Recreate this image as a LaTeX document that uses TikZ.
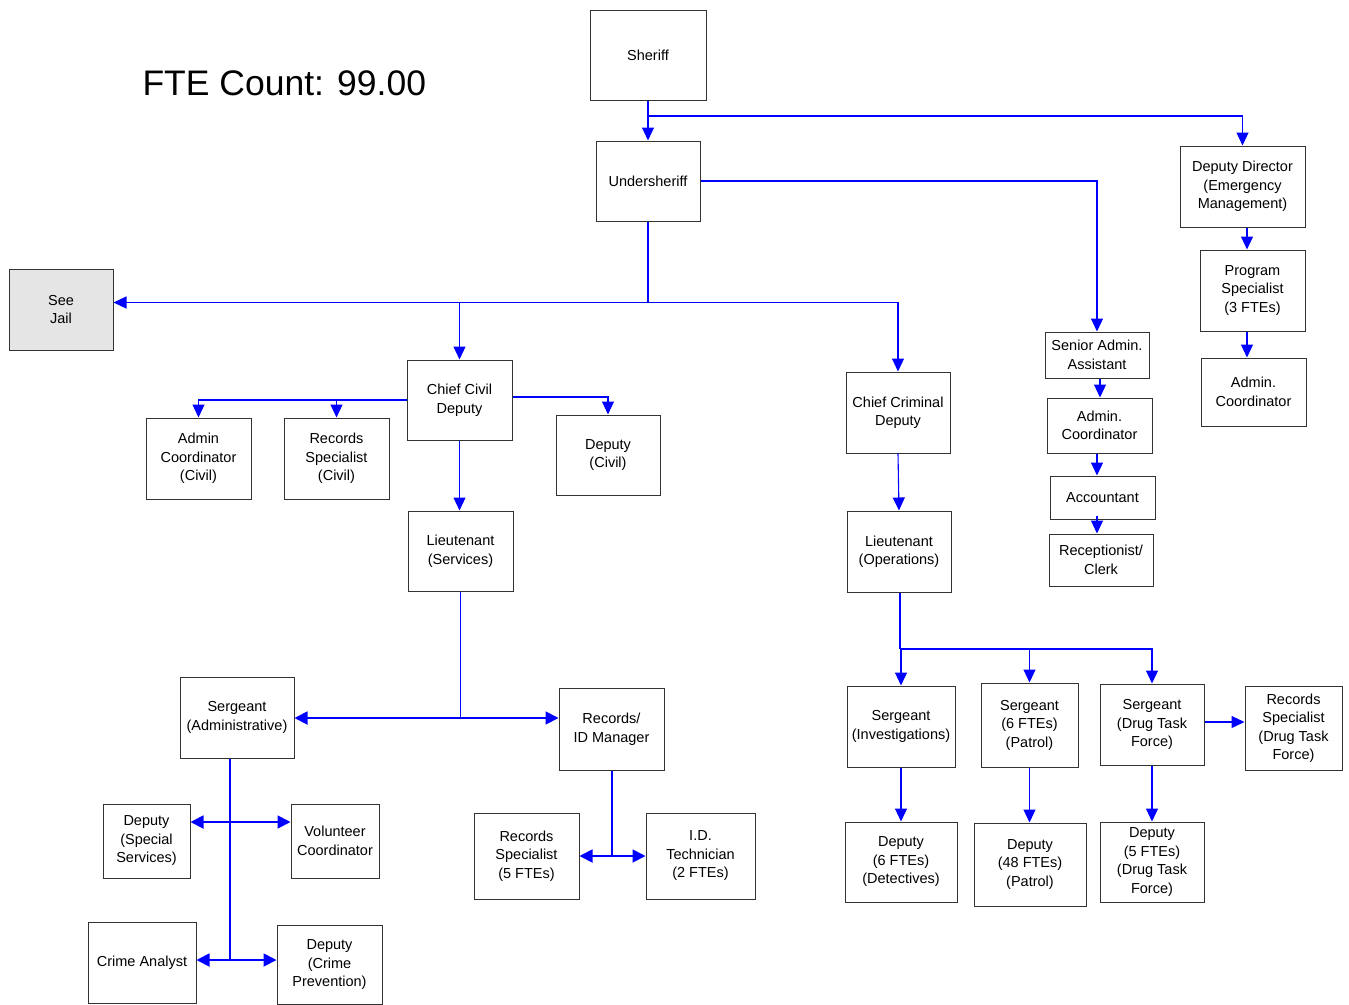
\documentclass[tikz,border=0pt]{standalone}
\usepackage{fontspec}
\setmainfont{Liberation Sans}
\usetikzlibrary{arrows.meta}
\usetikzlibrary{positioning}
\tikzset{
	box/.style 2 args={draw=black!80, line width=1pt, minimum width=#1pt, minimum height=#2pt,
		inner sep=0pt, align=center, font=\fontsize{14.5}{18.5}\selectfont},
	jailbox/.style={fill=black!10},
	wire/.style={draw=blue, line width=1.1pt},
	link/.style={wire, -{Triangle[length=13pt,width=12pt]}},
	twin/.style={wire, line width=1.8pt, -{Triangle[length=13pt,width=13pt]}}
}

\begin{document}
\begin{tikzpicture}[x=1pt,y=-1pt]
	\useasboundingbox (0,0) rectangle (1349,1004);
	\node[anchor=west, font=\fontsize{35.5}{42}\selectfont] (fte) at (139,83) {FTE Count: 99.00};
	% top
	\node[box={116}{90}] (sheriff) at (648,55) {Sheriff};
	\node[box={104}{80}] (under) at (648,181) {Undersheriff};
	\node[box={125}{81}] (depdir) at (1242.5,186.5) {Deputy Director\\(Emergency\\Management)};
	\node[box={105}{81}] (prog) at (1252.5,290.5) {Program\\Specialist\\(3 FTEs)};
	\node[box={105}{68}] (admr) at (1253.5,392) {Admin.\\Coordinator};
	\node[box={104}{81}, jailbox] (jail) at (61,309.5) {See\\Jail};
	% civil side
	\node[box={105}{80}] (civil) at (459.5,400) {Chief Civil\\Deputy};
	\node[box={105}{81}] (admc) at (198.5,458.5) {Admin\\Coordinator\\(Civil)};
	\node[box={105}{81}] (recc) at (336.5,458.5) {Records\\Specialist\\(Civil)};
	\node[box={104}{80}] (depc) at (608,455) {Deputy\\(Civil)};
	\node[box={105}{80}] (ltsvc) at (460.5,551) {Lieutenant\\(Services)};
	\node[box={114}{81}] (sgtadm) at (237,717.5) {Sergeant\\(Administrative)};
	\node[box={105}{82}] (recmgr) at (611.5,729) {Records/\\ID Manager};
	\node[box={87}{74}] (depss) at (146.5,841) {Deputy\\(Special\\Services)};
	\node[box={88}{74}] (volun) at (335,841) {Volunteer\\Coordinator};
	\node[box={108}{81}] (crime) at (142,962.5) {Crime Analyst};
	\node[box={105}{79}] (depcp) at (329.5,964.5) {Deputy\\(Crime\\Prevention)};
	\node[box={105}{86}] (recsp) at (526.5,856) {Records\\Specialist\\(5 FTEs)};
	\node[box={109}{86}] (idtech) at (700.5,856) {I.D.\\Technician\\(2 FTEs)};
	% criminal side
	\node[box={104}{81}] (crim) at (898,412.5) {Chief Criminal\\Deputy};
	\node[box={104}{81}] (ltops) at (899,551.5) {Lieutenant\\(Operations)};
	\node[box={108}{81}] (sgtinv) at (901,726.5) {Sergeant\\(Investigations)};
	\node[box={97}{84}] (sgtpat) at (1029.5,725) {Sergeant\\(6 FTEs)\\(Patrol)};
	\node[box={104}{81}] (sgtdrug) at (1152,724.5) {Sergeant\\(Drug Task\\Force)};
	\node[box={97}{84}] (recdrug) at (1293.5,728) {Records\\Specialist\\(Drug Task\\Force)};
	\node[box={112}{80}] (depdet) at (901,862) {Deputy\\(6 FTEs)\\(Detectives)};
	\node[box={112}{83}] (dep48) at (1030,864.5) {Deputy\\(48 FTEs)\\(Patrol)};
	\node[box={104}{80}] (dep5) at (1152,862) {Deputy\\(5 FTEs)\\(Drug Task\\Force)};
	% admin column
	\node[box={104}{46}] (senior) at (1097,355) {Senior Admin.\\Assistant};
	\node[box={105}{55}] (admmid) at (1099.5,425.5) {Admin.\\Coordinator};
	\node[box={105}{43}] (acct) at (1102.5,497.5) {Accountant};
	\node[box={104}{52}] (recep) at (1101,560) {Receptionist/\\Clerk};

	% junctions
	\coordinate (j1) at (648,116);
	\coordinate (j2) at (648,302.5);
	\coordinate (j3) at (459.5,302.5);
	\coordinate (j4) at (460.5,718);
	\coordinate (j5) at (230,822);
	\coordinate (j6) at (230,960);
	\coordinate (j7) at (612,856);
	\coordinate (j8) at (900,649);

	\draw[link] (sheriff.south) -- (under.north);
	\draw[link] (j1) -| (depdir.north);
	\draw[link] ([xshift=4.5pt]depdir.south) -- ([xshift=4.5pt]depdir.south |- prog.north);
	\draw[link] ([xshift=-5.5pt]prog.south) -- ([xshift=-5.5pt]prog.south |- admr.north);
	\draw[link] (under.east) -| (senior.north);
	\draw[link] ([xshift=3pt]senior.south) -- ([xshift=3pt]senior.south |- admmid.north);
	\draw[link] ([xshift=-2.5pt]admmid.south) -- ([xshift=-2.5pt]admmid.south |- acct.north);
	\draw[link] ([xshift=-5.5pt,yshift=4pt]acct.south) -- ([xshift=-5.5pt]acct.south |- recep.north);
	\draw[wire] (under.south) -- (j2);
	\draw[link] (j2) -| (crim.north);
	\draw[wire] (j2) -- (j3);
	\draw[link] (j3) -- (j3 -| jail.east);
	\draw[link] (j3) -- (civil.north);
	\draw[link] (civil.west) -| (admc.north);
	\draw[link] (civil.west -| recc.north) -- (recc.north);
	\draw[link] ([yshift=3pt]civil.east) -| (depc.north);
	\draw[link] (civil.south) -- (civil.south |- ltsvc.north);
	\draw[wire] (ltsvc.south) -- (j4);
	\draw[twin] (j4) -- (j4 -| sgtadm.east);
	\draw[twin] (j4) -- (j4 -| recmgr.west);
	\draw[wire] (sgtadm.south -| j5) -- (j6);
	\draw[twin] (j5) -- (j5 -| depss.east);
	\draw[twin] (j5) -- (j5 -| volun.west);
	\draw[twin] (j6) -- (j6 -| crime.east);
	\draw[twin] (j6) -- (j6 -| depcp.west);
	\draw[wire] (recmgr.south -| j7) -- (j7);
	\draw[twin] (j7) -- (recsp.east);
	\draw[twin] (j7) -- (idtech.west);
	\draw[link] (crim.south) -- (ltops.north);
	\draw[wire] (ltops.south -| j8) -- (j8);
	\draw[link] (j8) -| (sgtinv.north);
	\draw[link] (j8) -| (sgtpat.north);
	\draw[link] (j8) -| (sgtdrug.north);
	\draw[link] ([yshift=2.5pt]sgtdrug.east) -- ([yshift=2.5pt]sgtdrug.east -| recdrug.west);
	\draw[link] (sgtinv.south) -- (depdet.north);
	\draw[link] (sgtpat.south) -- (sgtpat.south |- dep48.north);
	\draw[link] (sgtdrug.south) -- (dep5.north);
\end{tikzpicture}
\end{document}
